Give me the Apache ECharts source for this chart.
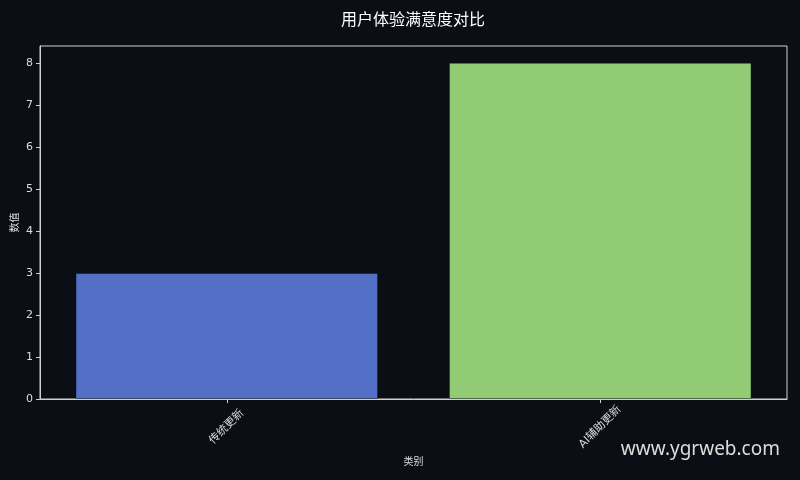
<!DOCTYPE html>
<html><head><meta charset="utf-8">
<script src="https://cdn.jsdelivr.net/npm/echarts@6/dist/echarts.min.js"></script>
<style>html,body{margin:0;padding:0;background:#0b0e14;}#c{width:800px;height:480px;}</style>
</head><body><div id="c"></div>
<script>
const categories = ['传统更新', 'AI辅助更新'];
const values = [3, 8];
const barColors = ['#5470c6', '#91cc75'];
const yTicks = [0, 1, 2, 3, 4, 5, 6, 7, 8];
const titleText = '用户体验满意度对比';
const xName = '类别';
const yName = '数值';
const watermark = 'www.ygrweb.com';

const font = '"DejaVu Sans", "Noto Sans CJK SC", sans-serif';
const chart = echarts.init(document.getElementById('c'));
chart.setOption({
  backgroundColor: '#0b0e14',
  animation: false,
  title: {
    text: titleText, left: 336, top: 8,
    textStyle: { color: '#ffffff', fontSize: 16, fontWeight: 'normal', fontFamily: font }
  },
  grid: { left: 40, right: 13, top: 46, bottom: 81, show: true, borderColor: '#d0d0d0', borderWidth: 1, backgroundColor: 'transparent', outerBoundsMode: 'none', containLabel: false },
  xAxis: {
    type: 'category', data: categories,
    name: xName, nameLocation: 'middle', nameGap: 58,
    nameTextStyle: { color: '#dddddd', fontSize: 10, fontFamily: font },
    axisLine: { lineStyle: { color: '#d0d0d0', width: 1 } },
    axisTick: { show: true, alignWithLabel: true, length: 4, lineStyle: { color: '#d0d0d0' } },
    axisLabel: { rotate: 45, color: '#dddddd', fontSize: 11, fontFamily: font, margin: 28, align: 'center', verticalAlign: 'middle' },
    splitLine: { show: false }
  },
  yAxis: {
    type: 'value', min: 0, max: 8.4, interval: 1,
    name: yName, nameLocation: 'middle', nameGap: 20, nameRotate: 90, nameMoveOverlap: false,
    nameTextStyle: { color: '#dddddd', fontSize: 10, fontFamily: font },
    axisLine: { show: true, lineStyle: { color: '#d0d0d0', width: 1 } },
    axisTick: { show: true, length: 4, lineStyle: { color: '#d0d0d0' }, customValues: yTicks },
    axisLabel: { color: '#dddddd', fontSize: 11, fontFamily: font, margin: 7, customValues: yTicks },
    splitLine: { show: false }
  },
  series: [{
    type: 'bar', barWidth: '81%',
    data: values.map((v, i) => ({ value: v, itemStyle: { color: barColors[i] } })),
    itemStyle: { borderColor: 'rgba(0,0,0,0.35)', borderWidth: 1 }
  }],
  graphic: [{
    type: 'text', right: 20, bottom: 21,
    style: { text: watermark, fill: '#dddddd', fontSize: 19, fontFamily: '"Noto Sans", "Open Sans", sans-serif' }
  }]
});
</script></body></html>
